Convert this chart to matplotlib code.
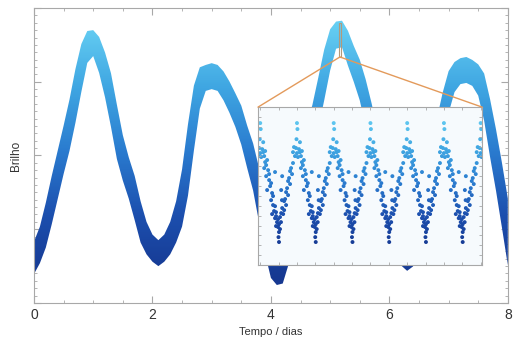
import numpy as np
import matplotlib
matplotlib.use('Agg')
import matplotlib.pyplot as plt
from matplotlib.colors import LinearSegmentedColormap, Normalize
from matplotlib.patches import Rectangle, ConnectionPatch
from matplotlib.ticker import MultipleLocator, NullFormatter

plt.rcParams['font.family'] = ['Liberation Sans', 'DejaVu Sans']

# Curva de luz: tempo (dias) com passo de 0.1
tempo = np.linspace(0, 8, 81)
# brilho medio (eixo normalizado 0-1)
brilho = [
    0.153, 0.197, 0.264, 0.349, 0.434, 0.519, 0.603, 0.702, 0.797, 0.868,
    0.881, 0.841, 0.773, 0.688, 0.580, 0.492, 0.424, 0.356, 0.275, 0.220,
    0.186, 0.169, 0.186, 0.220, 0.275, 0.356, 0.485, 0.627, 0.729, 0.763,
    0.769, 0.763, 0.736, 0.698, 0.654, 0.603, 0.529, 0.461, 0.366, 0.264,
    0.163, 0.105, 0.129, 0.220, 0.315, 0.417, 0.519, 0.593, 0.678, 0.773,
    0.858, 0.908, 0.912, 0.864, 0.810, 0.756, 0.678, 0.593, 0.502, 0.417,
    0.332, 0.254, 0.186, 0.153, 0.186, 0.264, 0.349, 0.444, 0.536, 0.627,
    0.715, 0.766, 0.786, 0.790, 0.780, 0.756, 0.698, 0.593, 0.485, 0.366,
    0.241,
]
# meia largura vertical da faixa de pontos (dispersao)
dispersao = [
    0.055, 0.062, 0.076, 0.082, 0.082, 0.082, 0.087, 0.091, 0.081, 0.054,
    0.044, 0.061, 0.076, 0.091, 0.092, 0.077, 0.070, 0.075, 0.070, 0.055,
    0.046, 0.044, 0.046, 0.055, 0.070, 0.097, 0.121, 0.110, 0.070, 0.044,
    0.044, 0.044, 0.049, 0.053, 0.057, 0.066, 0.072, 0.080, 0.092, 0.095,
    0.078, 0.044, 0.063, 0.088, 0.092, 0.095, 0.084, 0.078, 0.086, 0.086,
    0.070, 0.046, 0.045, 0.059, 0.061, 0.069, 0.080, 0.084, 0.084, 0.082,
    0.080, 0.074, 0.059, 0.044, 0.062, 0.080, 0.086, 0.088, 0.087, 0.086,
    0.071, 0.051, 0.044, 0.044, 0.044, 0.053, 0.080, 0.098, 0.104, 0.110,
    0.113,
]

# Detalhe (inset): pontos de um ciclo, fase relativa ao pico e nivel
fase = [
    0.000, 0.013, -0.013, 0.081, -0.081, -0.027, 0.054, -0.108, 0.000, 0.081,
    0.134, -0.054, 0.027, 0.108,
    0.134, 0.188, 0.108, 0.215, 0.161, 0.242, 0.269, 0.188, 0.323, 0.296,
    0.349, 0.376, 0.323, 0.403,
    -0.108, -0.161, -0.134, -0.215, -0.188, -0.269, -0.242, -0.323, -0.296,
    -0.349, -0.376,
    0.430, 0.484, 0.538, 0.457, 0.511, 0.565, 0.484, 0.538, 0.430, 0.511,
    0.497, 0.511,
    -0.403, 0.403, -0.430, 0.591,
    0.161, 0.242, 0.296, 0.349, 0.403, 0.430,
    -0.188, -0.242, -0.296, -0.349, -0.403, -0.430,
]
nivel = [
    0.899, 0.861, 0.797, 0.778, 0.747, 0.741, 0.734, 0.715, 0.709, 0.715,
    0.722, 0.690, 0.684, 0.690,
    0.652, 0.665, 0.614, 0.601, 0.563, 0.538, 0.500, 0.475, 0.456, 0.411,
    0.380, 0.342, 0.323, 0.297,
    0.646, 0.614, 0.576, 0.551, 0.513, 0.487, 0.443, 0.418, 0.380,
    0.348, 0.323,
    0.310, 0.291, 0.304, 0.272, 0.259, 0.272, 0.241, 0.228, 0.247, 0.209,
    0.177, 0.146,
    0.563, 0.589, 0.475, 0.411,
    0.633, 0.576, 0.519, 0.437, 0.373, 0.335,
    0.595, 0.532, 0.462, 0.405, 0.361, 0.329,
]
ciclos = [-1, 0, 1, 2, 3, 4, 5, 6]

cmap = LinearSegmentedColormap.from_list(
    'azul', ['#163891', '#1c4fae', '#2a7bcf', '#3fa6e2', '#66cff3'])
cinza = '#a8a8a8'

fig = plt.figure(figsize=(5.14, 3.39), dpi=100)
ax = fig.add_axes([0.0661, 0.1062, 0.9219, 0.8702])

b = np.array(brilho)
d = np.array(dispersao)
faixa = ax.fill_between(tempo, b - d, b + d, color='none', lw=0)
grad = np.linspace(0, 1, 256).reshape(-1, 1)
im = ax.imshow(grad, extent=[0, 8, 0, 1], origin='lower', aspect='auto',
               cmap=cmap, norm=Normalize(0.08, 0.95), zorder=2)
im.set_clip_path(faixa.get_paths()[0], ax.transData)

ax.set_xlim(0, 8)
ax.set_ylim(0, 1)
ax.xaxis.set_major_locator(MultipleLocator(2))
ax.xaxis.set_minor_locator(MultipleLocator(0.5))
ax.yaxis.set_major_locator(MultipleLocator(0.25))
ax.yaxis.set_minor_locator(MultipleLocator(0.025))
ax.yaxis.set_major_formatter(NullFormatter())
ax.tick_params(which='both', direction='in', top=True, right=True,
               color=cinza, labelsize=10, labelcolor='#333333')
ax.tick_params(which='major', length=5, width=0.8)
ax.tick_params(which='minor', length=2.5, width=0.6)
for s in ax.spines.values():
    s.set_color(cinza)
    s.set_linewidth(0.8)
ax.set_xlabel('Tempo / dias', fontsize=8, color='#333333', labelpad=4)
ax.set_ylabel('Brilho', fontsize=8.5, color='#333333', labelpad=5)

# regiao ampliada no pico
ax.add_patch(Rectangle((5.155, 0.834), 0.02, 0.115, fill=False,
                       ec='#b39a7a', lw=0.8, zorder=4))

axin = fig.add_axes([0.502, 0.218, 0.436, 0.466])
axin.set_facecolor('#f6fafd')
xs = np.concatenate([np.array(fase) + k for k in ciclos])
ys = np.tile(nivel, len(ciclos))
axin.scatter(xs, ys, c=ys, cmap=cmap, norm=Normalize(0.1, 0.95), s=8,
             linewidths=0)
axin.set_xlim(-0.06, 6.04)
axin.set_ylim(0, 1)
axin.xaxis.set_major_locator(MultipleLocator(0.5))
axin.yaxis.set_major_locator(MultipleLocator(0.0625))
axin.xaxis.set_major_formatter(NullFormatter())
axin.yaxis.set_major_formatter(NullFormatter())
axin.tick_params(direction='in', top=True, right=True, length=2.5,
                 width=0.6, color=cinza)
for s in axin.spines.values():
    s.set_color(cinza)
    s.set_linewidth(0.8)

for canto in [(0, 1), (1, 1)]:
    con = ConnectionPatch(xyA=(5.165, 0.834), coordsA=ax.transData,
                          xyB=canto, coordsB=axin.transAxes,
                          color='#e39a5b', lw=1.0, zorder=5)
    fig.add_artist(con)

fig.savefig('out.png', dpi=100)
